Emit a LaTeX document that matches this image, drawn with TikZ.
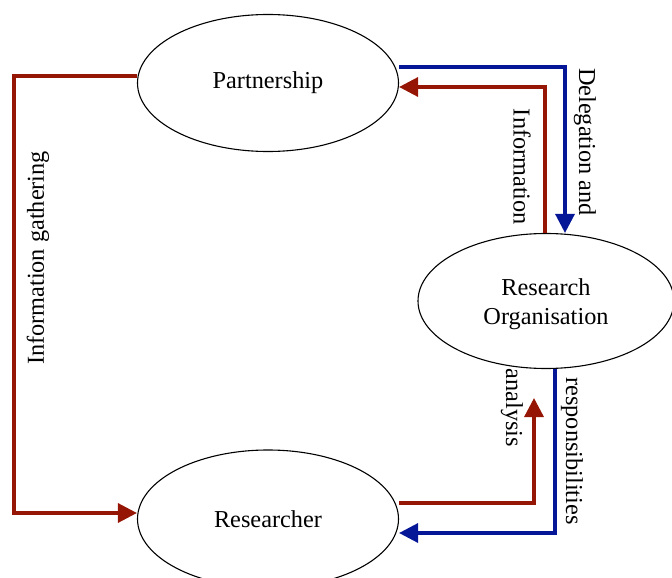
\documentclass[tikz,border=0pt]{standalone}
\usepackage{fontspec}
\setmainfont{Liberation Serif}
\usetikzlibrary{shapes.geometric,arrows.meta}
\definecolor{flowred}{RGB}{150,22,5}
\definecolor{flowblue}{RGB}{5,22,150}
\tikzset{
  actor/.style={draw=black, line width=1.1pt, ellipse, inner sep=0pt, align=center,
    font=\fontsize{24.3}{28.5}\selectfont},
  redflow/.style={draw=flowred, line width=3.3pt, -{Triangle[length=19pt,width=19pt]}},
  blueflow/.style={draw=flowblue, line width=3.3pt, -{Triangle[length=19pt,width=19pt]}},
  lbl/.style={font=\fontsize{24.3}{28.5}\selectfont, inner sep=0pt},
}
\begin{document}
\begin{tikzpicture}[x=1pt,y=-1pt]
\useasboundingbox (0,0) rectangle (672,578);
\node[actor, minimum width=261pt, minimum height=137pt] (P) at (268,83) {Partnership};
\node[actor, minimum width=256pt, minimum height=135pt] (RO) at (546,301) {};
\node[lbl, align=center] (ROt) at ([yshift=-3pt]RO.center) {Research\\Organisation};
\node[actor, minimum width=261pt, minimum height=138pt] (R) at (268,519) {Researcher};

\coordinate (L) at (14,300);
\coordinate (A) at (534,398);

\draw[blueflow] ([yshift=16pt]P.east) -| ([xshift=19pt]RO.north);
\draw[redflow] ([xshift=-1pt]RO.north) |- ([yshift=-4pt]P.east);
\draw[redflow] ([yshift=7pt]P.west) -| (L) |- ([yshift=6pt]R.west);
\draw[redflow] ([yshift=16pt]R.east) -| (A);
\draw[blueflow] ([xshift=9pt]RO.south) |- ([yshift=-14pt]R.east);

\node[lbl, rotate=-90] (t1) at (585,142) {Delegation and};
\node[lbl, rotate=-90] (t2) at (522,167) {Information};
\node[lbl, rotate=-90] (t3) at (512,408) {analysis};
\node[lbl, rotate=-90] (t4) at (572,451) {responsibilities};
\node[lbl, rotate=90] (t5) at (38,258) {Information gathering};
\end{tikzpicture}
\end{document}
